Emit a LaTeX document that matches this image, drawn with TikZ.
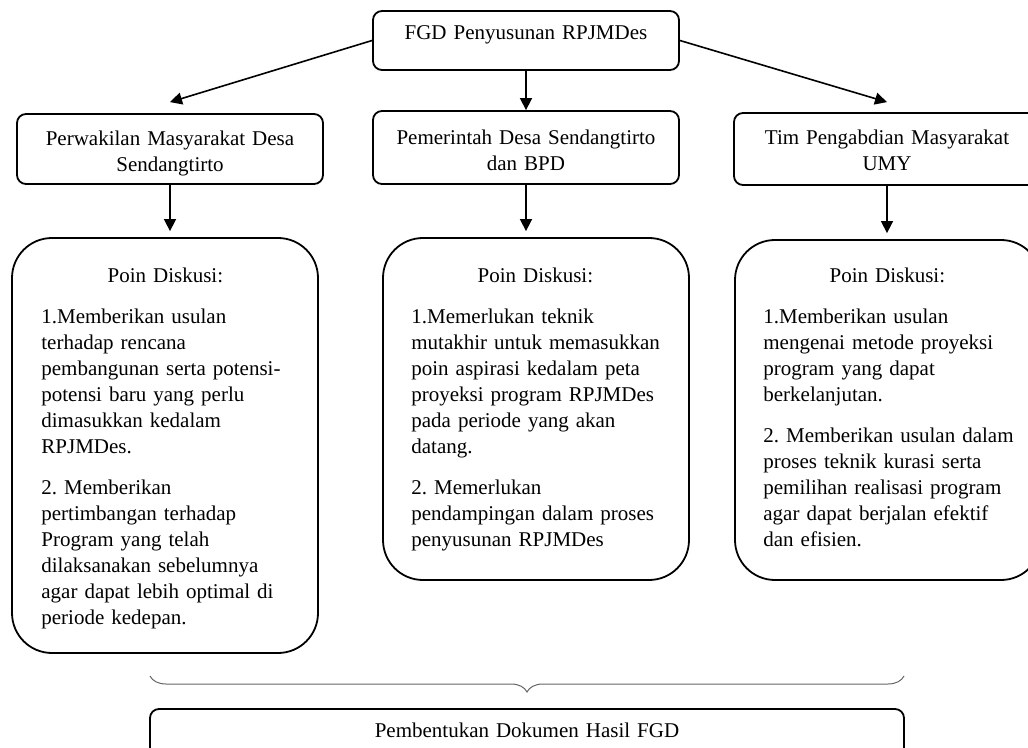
\documentclass[tikz,border=0pt]{standalone}
\usepackage{fontspec}
\setmainfont{Liberation Serif}
\frenchspacing
\usetikzlibrary{arrows.meta,positioning,calc,decorations.pathreplacing}
\tikzset{
  unitbox/.style={rectangle, rounded corners=4.5pt, draw=black, line width=0.9pt,
    minimum width=153pt, inner sep=0pt},
  diskbox/.style={rectangle, rounded corners=20pt, draw=black, line width=0.9pt,
    minimum width=153pt, inner sep=0pt},
  boxtext/.style={align=center, text width=150pt, inner sep=0pt, anchor=base},
  listtext/.style={align=left, text width=145pt, inner sep=0pt, anchor=base west},
  flow/.style={-{Triangle[length=6pt,width=6pt]}, line width=0.8pt, draw=black},
  brc/.style={decorate, decoration={brace, amplitude=8pt, aspect=0.5}, draw=black!60, line width=0.5pt},
}
\newcommand{\poinhead}{\makebox[124pt]{Poin Diskusi:}}

\begin{document}
\begin{tikzpicture}[x=0.5pt, y=-0.5pt, font=\fontsize{10.5}{13}\selectfont]
  \useasboundingbox (0,0) rectangle (1028,748);
  \clip (0,0) rectangle (1028,748);
  % top and the three parties
  \node[unitbox, minimum height=29.5pt] (fgd) at (526,40.5) {};
  \node[boxtext] (fgdtext) at (526,40) {FGD Penyusunan RPJMDes};
  \node[unitbox, minimum height=35pt] (warga) at (170,149) {};
  \node[boxtext] (wargatext) at (170,146) {Perwakilan Masyarakat Desa\\ Sendangtirto};
  \node[unitbox, minimum height=36.5pt] (pemdes) at (526,147.5) {};
  \node[boxtext] (pemdestext) at (526,145) {Pemerintah Desa Sendangtirto\\ dan BPD};
  \node[unitbox, minimum height=36pt] (tim) at (887,149) {};
  \node[boxtext] (timtext) at (887,145) {Tim Pengabdian Masyarakat\\ UMY};
  % discussion points
  \node[diskbox, minimum height=207.5pt] (poinA) at (165,445.5) {};
  \node[listtext] (poinAtext) at (41,283) {\poinhead\\[7.5pt]
    1.Memberikan usulan\\ terhadap rencana\\ pembangunan serta potensi-\\ potensi baru yang perlu\\
    dimasukkan kedalam\\ RPJMDes.\\[7.5pt]
    2. Memberikan\\ pertimbangan terhadap\\ Program yang telah\\ dilaksanakan sebelumnya\\
    agar dapat lebih optimal di\\ periode kedepan.};
  \node[diskbox, minimum height=171pt] (poinB) at (536,409) {};
  \node[listtext] (poinBtext) at (411,283) {\poinhead\\[7.5pt]
    1.Memerlukan teknik\\ mutakhir untuk memasukkan\\ poin aspirasi kedalam peta\\
    proyeksi program RPJMDes\\ pada periode yang akan\\ datang.\\[7.5pt]
    2. Memerlukan\\ pendampingan dalam proses\\ penyusunan RPJMDes};
  \node[diskbox, minimum height=170pt] (poinC) at (888,410) {};
  \node[listtext] (poinCtext) at (763,283) {\poinhead\\[7.5pt]
    1.Memberikan usulan\\ mengenai metode proyeksi\\ program yang dapat\\ berkelanjutan.\\[7.5pt]
    2. Memberikan usulan dalam\\ proses teknik kurasi serta\\ pemilihan realisasi program\\
    agar dapat berjalan efektif\\ dan efisien.};
  % result
  \coordinate (bl) at (150,676);
  \coordinate (br) at (904,676);
  \draw[brc] (br) -- (bl);
  \node[unitbox, minimum width=377pt, minimum height=35pt] (hasil) at (527,744) {};
  \node[boxtext, text width=370pt] (hasiltext) at (527,737) {Pembentukan Dokumen Hasil FGD};
  % arrows
  \draw[flow] (fgd.west) -- ([yshift=5.5pt]warga.north);
  \draw[flow] (fgd.east) -- ([yshift=5pt]tim.north);
  \draw[flow] (fgd.south) -- (pemdes.north);
  \draw[flow, shorten >=3pt] (warga.south) -- (warga.south |- poinA.north);
  \draw[flow, shorten >=3pt] (pemdes.south) -- (pemdes.south |- poinB.north);
  \draw[flow, shorten >=3pt] (tim.south) -- (tim.south |- poinC.north);
\end{tikzpicture}
\end{document}
